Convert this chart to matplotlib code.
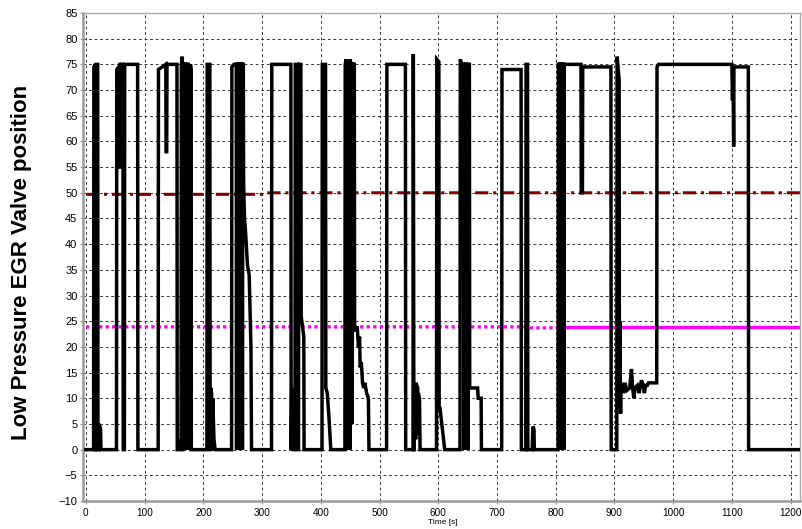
import matplotlib
matplotlib.use("Agg")
import matplotlib.pyplot as plt
import numpy as np

plt.rcParams["font.family"] = ["Liberation Sans", "DejaVu Sans"]
plt.rcParams["lines.scale_dashes"] = False

# valve position trace, breakpoints (time s, position)
valve_t = [
    0, 13, 13.5, 16, 16.5, 17, 17.5, 20, 20.5, 22, 22.5, 25, 25.5,
    52, 52.5, 56, 56.5, 57.5, 58, 63, 63.5, 65.5, 66, 88, 88.5,
    123, 123.5, 130, 136, 136.5, 137.5, 138, 155, 155.5,
    160, 160.5, 162, 162.5, 164, 164.5, 165, 165.5, 166.5, 167, 167.5,
    168.5, 169, 169.5, 170.5, 171, 171.5, 172.5, 173, 173.5, 174.5, 175,
    175.5, 177, 177.5, 178, 179, 179.5,
    206, 206.5, 211, 211.5, 212, 212.5, 214, 214.5, 216, 218, 220,
    248, 248.5, 252, 256, 256.5, 257, 258, 258.5, 259, 260, 260.5, 261,
    262, 262.5, 263, 264, 264.5, 265, 266, 266.5, 267, 268, 268.5, 270,
    272, 275, 278, 281, 281.5, 282,
    316, 316.5, 349, 349.5, 350.5, 352, 353,
    356, 356.5, 361, 361.5, 362, 362.5, 366, 366.5, 371, 371.5,
    402, 402.5, 408, 408.5, 411, 414, 417,
    441, 441.5, 443, 443.5, 444, 445, 445.5, 446, 447, 447.5, 448, 449,
    449.5, 450, 451, 451.5, 452, 453, 453.5, 454, 455, 455.5, 456, 457,
    457.5, 460, 462, 464, 466, 467, 469, 471, 473, 475, 478, 481, 482,
    512, 512.5, 544, 544.5, 557, 557.5, 558.5, 559, 559.5, 561, 561.5,
    562, 565, 565.5, 566, 568, 569,
    597, 597.5, 601, 601.5, 603, 608, 611,
    637, 637.5, 640, 641, 641.5, 643, 643.5, 644, 646, 646.5, 647, 650,
    650.5, 651, 653, 653.5, 654, 667, 668, 673, 673.5,
    708, 708.5, 741, 741.5, 749, 749.5, 752, 752.5, 760, 761, 763, 763.5,
    804, 804.5, 805.5, 806, 806.5, 807.5, 808, 808.5, 809.5, 810, 810.5,
    811.5, 812, 812.5, 813.5, 814, 814.5, 816,
    843, 843.5, 845.5, 846, 894, 894.5,
    904, 904.5, 908, 908.5, 909, 909.5, 910, 910.5, 911, 913, 915, 918,
    921, 926, 929, 931, 933, 935, 939, 942, 946, 949, 951, 953, 956, 958,
    972, 972.5, 975, 1100, 1101, 1102, 1102.5, 1103, 1103.5, 1128, 1128.5,
    1216,
]
valve_v = [
    0, 0, 74.5, 75, 0, 0, 75, 75, 0, 0, 5, 4, 0,
    0, 74, 74.5, 55, 55, 75, 75, 0, 0, 75, 75, 0,
    0, 74, 74.5, 75, 58, 58, 75, 75, 0,
    0, 2, 0, 75, 76.5, 0, 0, 75, 75, 0, 75,
    75, 0, 75, 75, 0, 75, 74, 0, 75, 75, 0,
    75, 74, 0, 75, 74, 0,
    0, 75, 75, 0, 0, 12, 11, 0, 10, 2, 0,
    0, 74.5, 75, 75, 0, 75, 75, 0, 75, 75, 0, 75,
    75, 0, 75, 75, 0, 75, 75, 0, 75, 75, 52, 45,
    42, 36, 34, 20, 8, 0,
    0, 75, 75, 0, 12, 10, 0,
    0, 75, 75, 0, 0, 75, 75, 26, 22, 0,
    0, 75, 75, 12, 11, 6, 0,
    0, 75, 76, 0, 75, 75, 10, 75, 75, 0, 75, 75,
    0, 76, 75, 45, 75, 75, 5, 75, 75, 24, 75, 75,
    24, 23, 24, 20, 22, 16, 17, 13, 12, 13, 11, 10, 0,
    0, 75, 75, 0, 0, 77, 0, 0, 12, 12, 2,
    13, 12, 3, 11, 10, 0,
    0, 76, 75.5, 8, 8, 3, 0,
    0, 76, 75, 43, 75, 75, 0, 75, 75, 0, 75, 75,
    0, 75, 75, 12, 12, 12, 10, 10, 0,
    0, 74, 74, 0, 0, 75, 75, 0, 0, 4.5, 4, 0,
    0, 75, 75, 0, 75, 75, 0, 75, 75, 0, 75,
    75, 0, 75, 75, 0, 75, 75,
    75, 50, 50, 74.5, 74.5, 0,
    0, 76.5, 72, 8, 25, 8, 12, 7, 12, 13, 11, 13,
    11.5, 12, 15.7, 12, 10, 12, 12.5, 11, 13.5, 12.5, 11, 12.5, 12.5, 13,
    13, 74.5, 75, 75, 68, 74, 66, 59, 74.5, 74.5, 0,
    0,
]

# reference levels
upper_t = [0, 300, 305, 1216]
upper_v = [49.7, 49.7, 50.0, 50.0]
lower_t = [0, 750, 756, 802]
lower_v = [23.9, 23.9, 23.7, 23.7]
lower_t2 = [802, 1216]
lower_v2 = [23.9, 23.9]

xticks = np.arange(0, 1201, 100)
yticks = np.arange(-10, 86, 5)

fig = plt.figure(figsize=(8.02, 5.29), dpi=100)
ax = fig.add_axes([83 / 802, 1 - 501 / 529, 717 / 802, 488 / 529])

ax.plot(upper_t, upper_v, color="#800000", lw=2.2,
        linestyle=(0, (9.5, 3.5, 2.2, 3.5)), zorder=2)
ax.plot(lower_t, lower_v, color="#ff00ff", lw=2.4,
        linestyle=(0, (2.4, 2.3)), zorder=2)
ax.plot(lower_t2, lower_v2, color="#ff00ff", lw=2.4, zorder=2)
ax.plot(valve_t, valve_v, color="black", lw=2.5, solid_joinstyle="miter",
        zorder=3)

ax.set_xlim(-5, 1216)
ax.set_ylim(-10, 85)
ax.set_xticks(xticks)
ax.set_yticks(yticks)
ax.tick_params(labelsize=8, length=2, width=0.8, color="#999999", pad=2)
ax.tick_params(axis="x", labelsize=7.2, pad=3)
ax.grid(True, color="#333333", lw=0.7, linestyle=(0, (2, 2)))

for side in ["left", "bottom"]:
    ax.spines[side].set_color("#999999")
    ax.spines[side].set_linewidth(1.8)
for side in ["top", "right"]:
    ax.spines[side].set_color("#aaaaaa")
    ax.spines[side].set_linewidth(1.0)

fig.text(443 / 802, 1 - 523 / 529, "Time [s]", fontsize=6, ha="center",
         va="center")
fig.text(22 / 802, 1 - 262 / 529, "Low Pressure EGR Valve position",
         fontsize=16, fontweight="bold", rotation=90, ha="center",
         va="center")

fig.savefig("out.png", dpi=100)
